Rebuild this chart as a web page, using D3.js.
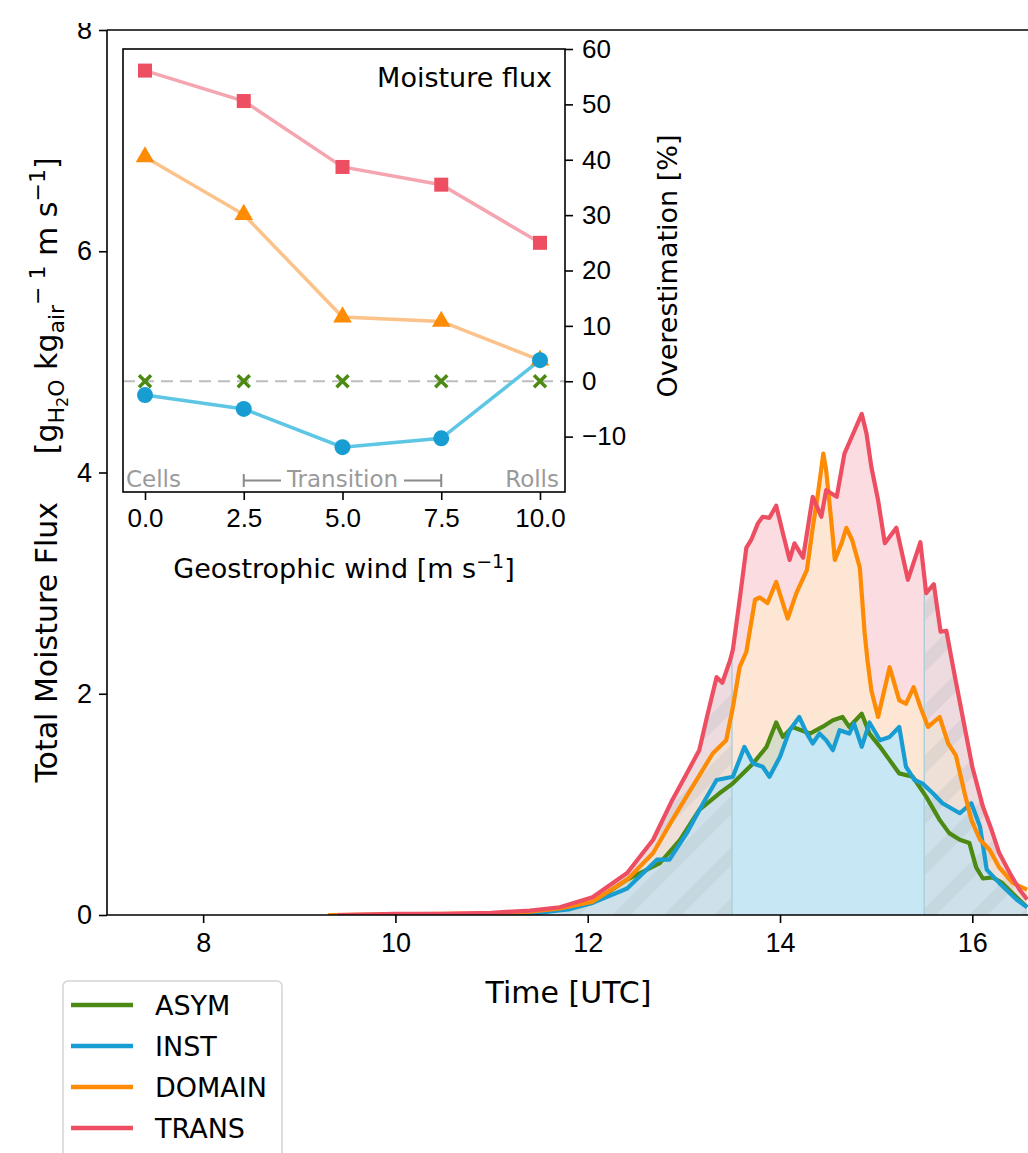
<!DOCTYPE html>
<meta charset="utf-8">
<style>
body { margin: 0; background: #fff; }
svg { font-family: "DejaVu Sans", sans-serif; }
.axis path, .axis line { stroke: #000; stroke-width: 1.6px; }
.axis text { fill: #000; }
</style>
<body>
<script src="https://d3js.org/d3.v7.min.js"></script>
<script>

// main panel: total moisture flux readings, [hour UTC, flux]
var transFlux = [[9.4,0.0],[10.0,0.01],[10.5,0.01],[11.0,0.02],[11.4,0.04],[11.71,0.07],[12.05,0.16],[12.41,0.38],[12.68,0.68],[12.88,1.04],[13.03,1.28],[13.16,1.49],[13.24,1.79],[13.34,2.15],[13.40,2.10],[13.48,2.30],[13.51,2.40],[13.58,2.85],[13.65,3.32],[13.70,3.39],[13.77,3.54],[13.82,3.60],[13.89,3.59],[13.96,3.70],[14.03,3.45],[14.10,3.21],[14.15,3.36],[14.24,3.23],[14.34,3.78],[14.43,3.60],[14.48,3.84],[14.59,3.78],[14.67,4.17],[14.76,4.35],[14.85,4.53],[14.90,4.35],[14.95,4.05],[15.02,3.75],[15.09,3.36],[15.21,3.50],[15.33,3.03],[15.46,3.37],[15.52,2.91],[15.60,2.99],[15.67,2.56],[15.73,2.57],[15.80,2.24],[15.90,1.79],[16.00,1.34],[16.11,0.98],[16.20,0.77],[16.28,0.56],[16.39,0.38],[16.49,0.23],[16.57,0.14]];
var domainFlux = [[9.3,0.0],[10.0,0.005],[10.5,0.01],[11.0,0.015],[11.4,0.03],[11.71,0.06],[12.05,0.12],[12.41,0.32],[12.68,0.56],[12.88,0.86],[13.09,1.16],[13.30,1.46],[13.44,1.58],[13.51,1.88],[13.58,2.24],[13.65,2.38],[13.74,2.85],[13.79,2.87],[13.87,2.82],[13.96,3.01],[14.08,2.68],[14.17,2.91],[14.28,3.12],[14.34,3.50],[14.39,3.78],[14.45,4.17],[14.48,4.02],[14.54,3.50],[14.57,3.21],[14.64,3.36],[14.69,3.50],[14.75,3.39],[14.83,3.14],[14.88,2.55],[14.91,2.30],[14.95,2.03],[15.02,1.79],[15.14,2.24],[15.24,1.94],[15.31,1.91],[15.39,2.06],[15.46,1.88],[15.54,1.70],[15.66,1.79],[15.75,1.55],[15.83,1.44],[15.92,1.10],[15.99,0.86],[16.08,0.68],[16.18,0.59],[16.28,0.43],[16.42,0.29],[16.57,0.23]];
var asymFlux = [[11.0,0.0],[11.5,0.03],[11.8,0.06],[12.05,0.11],[12.41,0.32],[12.75,0.47],[12.96,0.68],[13.16,0.95],[13.37,1.10],[13.51,1.19],[13.72,1.37],[13.86,1.52],[13.96,1.74],[14.03,1.61],[14.13,1.70],[14.31,1.64],[14.44,1.70],[14.55,1.76],[14.65,1.79],[14.72,1.70],[14.85,1.82],[14.93,1.64],[15.04,1.52],[15.14,1.40],[15.24,1.28],[15.38,1.25],[15.52,1.07],[15.66,0.86],[15.76,0.74],[15.87,0.68],[15.97,0.65],[16.04,0.43],[16.11,0.33],[16.21,0.34],[16.31,0.29],[16.46,0.16],[16.57,0.07]];
var instFlux = [[11.0,0.0],[11.5,0.02],[11.8,0.05],[12.05,0.11],[12.41,0.24],[12.72,0.50],[12.85,0.50],[13.03,0.74],[13.20,1.01],[13.34,1.22],[13.51,1.25],[13.63,1.52],[13.72,1.37],[13.82,1.34],[13.89,1.25],[14.00,1.43],[14.10,1.67],[14.20,1.79],[14.28,1.64],[14.34,1.55],[14.41,1.64],[14.48,1.58],[14.55,1.49],[14.62,1.67],[14.72,1.64],[14.77,1.73],[14.85,1.52],[14.93,1.74],[15.04,1.58],[15.14,1.61],[15.24,1.70],[15.31,1.34],[15.40,1.22],[15.48,1.19],[15.59,1.10],[15.69,1.01],[15.87,0.92],[15.99,1.01],[16.08,0.80],[16.15,0.41],[16.28,0.29],[16.46,0.14],[16.57,0.07]];

// analysis window (unhatched part)
var windowStart = 13.5, windowEnd = 15.5;

var timeTicks = [8, 10, 12, 14, 16];
var fluxTicks = [0, 2, 4, 6, 8];

// inset: overestimation vs geostrophic wind
var windSpeeds = [0, 2.5, 5, 7.5, 10];
var transOver = [56.1, 50.6, 38.7, 35.5, 25.0];
var domainOver = [40.5, 30.1, 11.6, 10.8, 3.8];
var asymOver = [0, 0, 0, 0, 0];
var instOver = [-2.5, -5.0, -11.9, -10.3, 3.8];
var windTicks = [0, 2.5, 5, 7.5, 10];
var overTicks = [-10, 0, 10, 20, 30, 40, 50, 60];

var legendNames = ["ASYM", "INST", "DOMAIN", "TRANS"];

var colors = { ASYM: "#4c8a14", INST: "#179dd2", DOMAIN: "#fd8b04", TRANS: "#ee4e62" };
var fills = { ASYM: "#d8dccb", INST: "#c6e7f3", DOMAIN: "#fde6d3", TRANS: "#fbdce1" };
var insetLine = { TRANS: "#f4a5b0", DOMAIN: "#fbc289", INST: "#5cc6e4" };

var W = 1028, H = 1153;
var svg = d3.select("body").append("svg")
    .attr("width", W).attr("height", H);

// main axes frame
var mLeft = 107, mTop = 30, mBottom = 915, mRight = 1030;
var x = d3.scaleLinear().domain([7, 16.6]).range([mLeft, mRight]);
var y = d3.scaleLinear().domain([0, 8]).range([mBottom, mTop]);

var defs = svg.append("defs");
defs.append("clipPath").attr("id", "plotClip")
  .append("rect").attr("x", mLeft).attr("y", mTop)
    .attr("width", mRight - mLeft).attr("height", mBottom - mTop);

var area = d3.area().x(function(d) { return x(d[0]); })
    .y0(y(0)).y1(function(d) { return y(d[1]); });
var line = d3.line().x(function(d) { return x(d[0]); })
    .y(function(d) { return y(d[1]); });

defs.append("clipPath").attr("id", "underClip")
  .append("path").attr("d", area(transFlux));

var hatch = defs.append("pattern").attr("id", "hatch")
    .attr("patternUnits", "userSpaceOnUse")
    .attr("width", 36).attr("height", 36)
    .attr("patternTransform", "rotate(45)");
hatch.append("rect").attr("x", 0).attr("y", 0)
    .attr("width", 13).attr("height", 36)
    .attr("fill", "rgba(150,160,170,0.16)");

var plot = svg.append("g").attr("clip-path", "url(#plotClip)");

var series = [
  { name: "TRANS", data: transFlux },
  { name: "DOMAIN", data: domainFlux },
  { name: "ASYM", data: asymFlux },
  { name: "INST", data: instFlux }
];

series.forEach(function(s) {
  plot.append("path").attr("d", area(s.data))
      .attr("fill", fills[s.name]);
});

// gray hatched overlay outside the window
var under = plot.append("g").attr("clip-path", "url(#underClip)");
[[7, windowStart], [windowEnd, 16.6]].forEach(function(r) {
  under.append("rect").attr("x", x(r[0])).attr("y", mTop)
      .attr("width", x(r[1]) - x(r[0])).attr("height", mBottom - mTop)
      .attr("fill", "rgba(218,218,222,0.42)");
  under.append("rect").attr("x", x(r[0])).attr("y", mTop)
      .attr("width", x(r[1]) - x(r[0])).attr("height", mBottom - mTop)
      .attr("fill", "url(#hatch)");
});
[windowStart, windowEnd].forEach(function(t) {
  under.append("line").attr("x1", x(t)).attr("x2", x(t))
      .attr("y1", mTop).attr("y2", mBottom)
      .attr("stroke", "#add0dd").attr("stroke-width", 1.5);
});

["ASYM", "INST", "DOMAIN", "TRANS"].forEach(function(n) {
  var s = series.filter(function(d) { return d.name === n; })[0];
  plot.append("path").attr("d", line(s.data))
      .attr("fill", "none").attr("stroke", colors[n])
      .attr("stroke-width", 4.2).attr("stroke-linejoin", "round");
});

// axes
svg.append("g").attr("class", "axis")
    .attr("transform", "translate(0," + mBottom + ")")
    .call(d3.axisBottom(x).tickValues(timeTicks).tickSize(8).tickPadding(10).tickFormat(d3.format("d")))
    .call(function(g) { g.select(".domain").remove(); })
    .selectAll("text").style("font-size", "27px");
svg.append("g").attr("class", "axis")
    .attr("transform", "translate(" + mLeft + ",0)")
    .call(d3.axisLeft(y).tickValues(fluxTicks).tickSize(8).tickPadding(7).tickFormat(d3.format("d")))
    .call(function(g) { g.select(".domain").remove(); })
    .selectAll("text").style("font-size", "27px");

svg.append("line").attr("x1", mLeft).attr("x2", mLeft).attr("y1", mTop).attr("y2", mBottom)
    .attr("stroke", "#000").attr("stroke-width", 1.6);
svg.append("line").attr("x1", mLeft).attr("x2", W).attr("y1", mBottom).attr("y2", mBottom)
    .attr("stroke", "#000").attr("stroke-width", 1.6);
svg.append("line").attr("x1", mLeft).attr("x2", W).attr("y1", mTop).attr("y2", mTop)
    .attr("stroke", "#000").attr("stroke-width", 1.6);

// the figure is cropped just above the top tick label
svg.append("rect").attr("x", 0).attr("y", 0).attr("width", 100).attr("height", 23)
    .attr("fill", "#fff");

svg.append("text").attr("x", (mLeft + mRight) / 2).attr("y", 1003)
    .attr("text-anchor", "middle").style("font-size", "30px")
    .text("Time [UTC]");

var ylab = svg.append("text")
    .attr("transform", "translate(57,470) rotate(-90)")
    .attr("text-anchor", "middle").style("font-size", "30px");
ylab.append("tspan").text("Total Moisture Flux\u00a0\u00a0\u00a0\u00a0\u00a0[g");
ylab.append("tspan").attr("dy", 7).style("font-size", "22px").text("H");
ylab.append("tspan").attr("dy", 4).style("font-size", "16px").text("2");
ylab.append("tspan").attr("dy", -4).style("font-size", "22px").text("O");
ylab.append("tspan").attr("dy", -7).text(" kg");
ylab.append("tspan").attr("dy", 7).style("font-size", "22px").text("air");
ylab.append("tspan").attr("dy", -19).style("font-size", "22px").text("\u2212 1");
ylab.append("tspan").attr("dy", 12).text(" m s");
ylab.append("tspan").attr("dy", -12).style("font-size", "22px").text("\u22121");
ylab.append("tspan").attr("dy", 12).text("]");

// inset
var iL = 123, iT = 49, iR = 565, iB = 492;
var ix = d3.scaleLinear().domain([-0.557, 10.633]).range([iL, iR]);
var iy = d3.scaleLinear().domain([-20, 60]).range([iB, iT]);

var inset = svg.append("g");
inset.append("rect").attr("x", iL).attr("y", iT)
    .attr("width", iR - iL).attr("height", iB - iT).attr("fill", "#fff");

inset.append("line").attr("x1", iL).attr("x2", iR)
    .attr("y1", iy(0)).attr("y2", iy(0))
    .attr("stroke", "#bdbdbd").attr("stroke-width", 2)
    .attr("stroke-dasharray", "12,7");

var pline = d3.line().x(function(d) { return ix(d[0]); })
    .y(function(d) { return iy(d[1]); });
function pairs(vals) { return windSpeeds.map(function(w, i) { return [w, vals[i]]; }); }

[["TRANS", transOver], ["DOMAIN", domainOver], ["INST", instOver]].forEach(function(p) {
  inset.append("path").attr("d", pline(pairs(p[1])))
      .attr("fill", "none").attr("stroke", insetLine[p[0]]).attr("stroke-width", 3.5);
});

// markers
inset.selectAll(".sq").data(pairs(transOver)).enter().append("rect")
    .attr("x", function(d) { return ix(d[0]) - 7; })
    .attr("y", function(d) { return iy(d[1]) - 7; })
    .attr("width", 14).attr("height", 14).attr("fill", colors.TRANS);
inset.selectAll(".tri").data(pairs(domainOver)).enter().append("path")
    .attr("transform", function(d) { return "translate(" + ix(d[0]) + "," + iy(d[1]) + ")"; })
    .attr("d", d3.symbol().type(d3.symbolTriangle).size(150))
    .attr("fill", colors.DOMAIN);
inset.selectAll(".xm").data(pairs(asymOver)).enter().append("path")
    .attr("transform", function(d) { return "translate(" + ix(d[0]) + "," + iy(d[1]) + ")"; })
    .attr("d", "M-6,-6L6,6M-6,6L6,-6")
    .attr("stroke", colors.ASYM).attr("stroke-width", 3.5).attr("fill", "none");
inset.selectAll(".ci").data(pairs(instOver)).enter().append("circle")
    .attr("cx", function(d) { return ix(d[0]); })
    .attr("cy", function(d) { return iy(d[1]); })
    .attr("r", 8).attr("fill", colors.INST);

inset.append("rect").attr("x", iL).attr("y", iT)
    .attr("width", iR - iL).attr("height", iB - iT)
    .attr("fill", "none").attr("stroke", "#000").attr("stroke-width", 1.6);

inset.append("g").attr("class", "axis")
    .attr("transform", "translate(0," + iB + ")")
    .call(d3.axisBottom(ix).tickValues(windTicks).tickSize(8).tickPadding(9).tickFormat(d3.format(".1f")))
    .call(function(g) { g.select(".domain").remove(); })
    .selectAll("text").style("font-size", "26px");
inset.append("g").attr("class", "axis")
    .attr("transform", "translate(" + iR + ",0)")
    .call(d3.axisRight(iy).tickValues(overTicks).tickSize(8).tickPadding(9).tickFormat(function(d) { return d < 0 ? "\u2212" + (-d) : d; }))
    .call(function(g) { g.select(".domain").remove(); })
    .selectAll("text").style("font-size", "26px");

inset.append("text").attr("x", 552).attr("y", 87).attr("text-anchor", "end")
    .style("font-size", "27px").text("Moisture flux");

var gray = "#9a9a9a";
inset.append("text").attr("x", 126).attr("y", 487).style("font-size", "23px")
    .attr("fill", gray).text("Cells");
inset.append("text").attr("x", 559).attr("y", 487).attr("text-anchor", "end")
    .style("font-size", "23px").attr("fill", gray).text("Rolls");
inset.append("text").attr("x", ix(5)).attr("y", 487).attr("text-anchor", "middle")
    .style("font-size", "23px").attr("fill", gray).text("Transition");
inset.append("path")
    .attr("d", "M" + ix(2.5) + ",474V487M" + ix(2.5) + ",480.5H281"
        + "M" + ix(7.5) + ",474V487M" + ix(7.5) + ",480.5H404")
    .attr("stroke", "#8a8a8a").attr("stroke-width", 2).attr("fill", "none");

var xl = inset.append("text").attr("x", (iL + iR) / 2).attr("y", 578)
    .attr("text-anchor", "middle").style("font-size", "27px");
xl.append("tspan").text("Geostrophic wind [m s");
xl.append("tspan").attr("dy", -10).style("font-size", "19px").text("\u22121");
xl.append("tspan").attr("dy", 10).text("]");

inset.append("text")
    .attr("transform", "translate(677,266) rotate(-90)")
    .attr("text-anchor", "middle").style("font-size", "27px")
    .text("Overestimation [%]");

// legend
var lg = svg.append("g");
lg.append("rect").attr("x", 63).attr("y", 981).attr("width", 219).attr("height", 200)
    .attr("rx", 5).attr("fill", "#fff").attr("stroke", "#d4d4d4").attr("stroke-width", 1.5);
legendNames.forEach(function(n, i) {
  var yy = 1005 + i * 41;
  lg.append("line").attr("x1", 71).attr("x2", 133).attr("y1", yy).attr("y2", yy)
      .attr("stroke", colors[n]).attr("stroke-width", 4.5);
  lg.append("text").attr("x", 155).attr("y", yy + 10).style("font-size", "27px").text(n);
});

</script>
</body>
